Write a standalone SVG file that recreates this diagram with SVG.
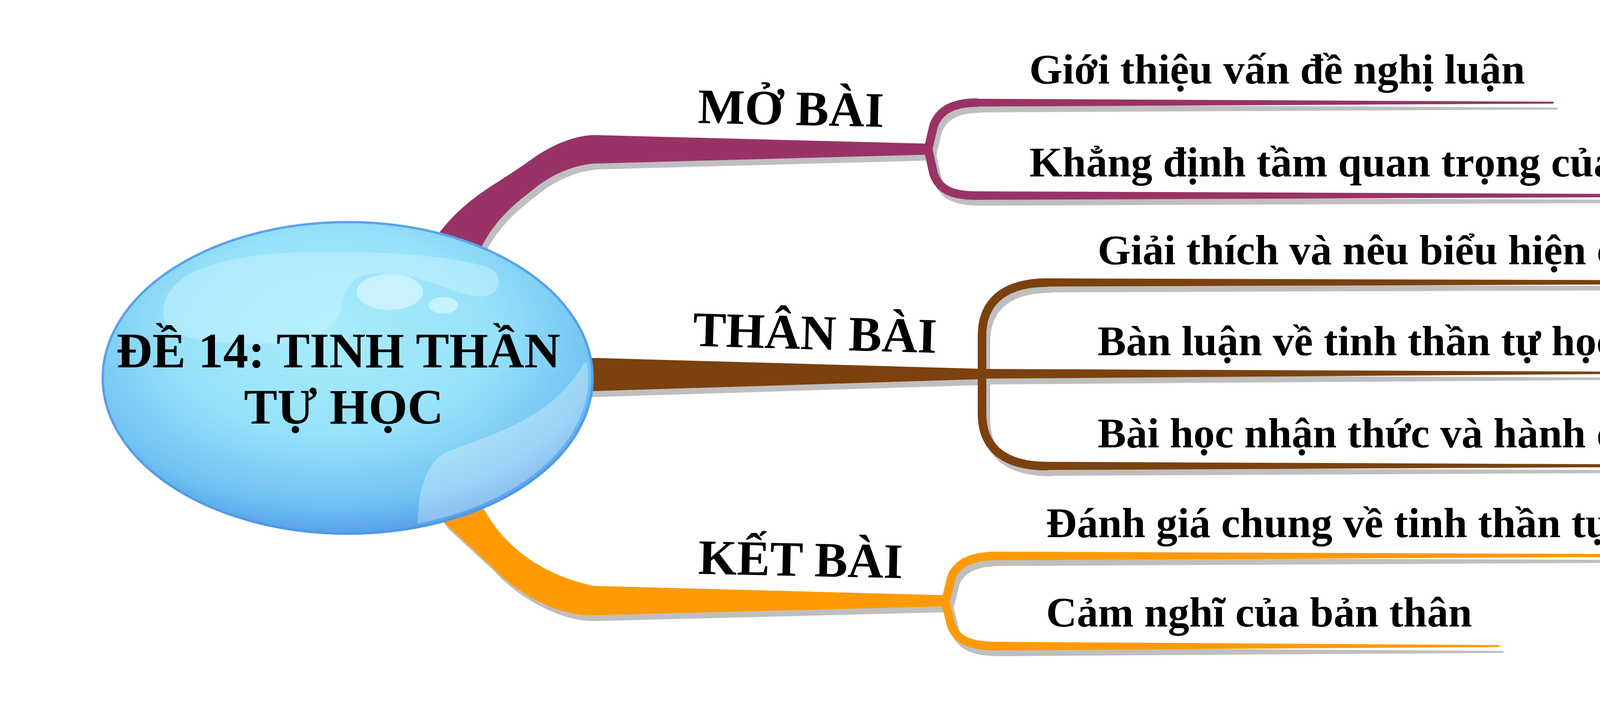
<svg xmlns="http://www.w3.org/2000/svg" xmlns:xlink="http://www.w3.org/1999/xlink" width="5334" height="1806" viewBox="0 0 5334 1806">
<style>
.f{stroke:none}
.k{fill:none;stroke-width:22;stroke-linecap:round;stroke-linejoin:round}
.t{font-family:"Liberation Serif","Times New Roman",serif;font-weight:bold;font-size:109px;fill:#000}
.lab{font-family:"Liberation Serif","Times New Roman",serif;font-weight:bold;font-size:127px;fill:#000}
.ct{font-family:"Liberation Serif","Times New Roman",serif;font-weight:bold;font-size:128px;fill:#000;text-anchor:middle}
</style>
<defs>
<radialGradient id="bub" cx="0.47" cy="0.36" r="0.72">
<stop offset="0" stop-color="#a8ecfc"/>
<stop offset="0.45" stop-color="#96e2fa"/>
<stop offset="0.75" stop-color="#72c2f3"/>
<stop offset="1" stop-color="#3f86e0"/>
</radialGradient>
<clipPath id="clipE"><ellipse cx="890" cy="968" rx="616" ry="390"/></clipPath>
<g id="br1">
<path class="f" d="M1060,690 L1127,593 C1200,500 1270,475 1368,403 C1420,368 1470,348 1520,346 L2378,368 L2378,396 L1520,419 C1480,422 1420,440 1368,483 C1320,520 1270,560 1234,630 L1180,720 Z"/>
<path class="k" d="M2376,382 L2390,322 C2405,282 2440,263 2500,263"/>
<path class="k" d="M2376,382 L2390,445 C2405,488 2440,501 2500,501"/>
<path class="f" d="M2490,253 L3975,260.5 A2.5,2.5 0 0 1 3975,265.5 L2490,273 Z"/>
<path class="f" d="M2490,490 L4550,498.5 A2.5,2.5 0 0 1 4550,503.5 L2490,512 Z"/>
</g>
<g id="br2">
<path class="f" d="M1450,915 L2520,945 L2520,971 L1450,1004 Z"/>
<path class="f" d="M2510,945 L4213,952.5 A2.5,2.5 0 0 1 4213,957.5 L2510,970 Z"/>
<path class="k" d="M2514,958 L2514,860 C2514,770 2575,724 2680,724"/>
<path class="k" d="M2514,958 L2514,1060 C2514,1150 2575,1194 2680,1194"/>
<path class="f" d="M2670,713 L5100,720.5 A2.5,2.5 0 0 1 5100,725.5 L2670,734 Z"/>
<path class="f" d="M2670,1183 L4395,1190.5 A2.5,2.5 0 0 1 4395,1195.5 L2670,1204 Z"/>
</g>
<g id="br3">
<path class="f" d="M1190,1240 L1239,1305 C1280,1380 1365,1468 1521,1501 L2428,1525 L2428,1553 L1512,1576 C1440,1578 1330,1530 1253,1446 L1138,1340 L1090,1270 Z"/>
<path class="k" d="M2420,1542 L2436,1478 C2452,1440 2490,1425 2550,1424"/>
<path class="k" d="M2420,1542 L2436,1605 C2452,1643 2490,1655 2550,1655"/>
<path class="f" d="M2540,1413 L4420,1420.5 A2.5,2.5 0 0 1 4420,1425.5 L2540,1435 Z"/>
<path class="f" d="M2540,1644 L3837,1652.5 A2.5,2.5 0 0 1 3837,1657.5 L2540,1666 Z"/>
</g>
</defs>
<rect width="5334" height="1806" fill="#ffffff"/>
<g id="connectors">
<use xlink:href="#br1" transform="translate(10,15)" fill="#bfbfbf" stroke="#bfbfbf"/>
<use xlink:href="#br1" fill="#993366" stroke="#993366"/>
<use xlink:href="#br2" transform="translate(10,15)" fill="#bfbfbf" stroke="#bfbfbf"/>
<use xlink:href="#br2" fill="#7b410e" stroke="#7b410e"/>
<use xlink:href="#br3" transform="translate(10,15)" fill="#bfbfbf" stroke="#bfbfbf"/>
<use xlink:href="#br3" fill="#ff9a03" stroke="#ff9a03"/>
</g>
<g id="node-center">
<ellipse cx="890" cy="968" rx="630" ry="402" fill="url(#bub)"/>
<path d="M418,800 C418,700 560,650 800,645 C1000,642 1200,660 1260,690 C1290,710 1280,760 1230,760 C1170,760 1090,700 960,700 C890,700 880,760 870,800 C850,860 780,880 650,880 C500,880 418,860 418,800 Z" fill="#c4f1fd" opacity="0.55"/>
<ellipse cx="998" cy="748" rx="85" ry="46" fill="#c8f2fd"/>
<ellipse cx="1135" cy="782" rx="38" ry="21" fill="#c8f2fd"/>
<path clip-path="url(#clipE)" d="M1071,1420 C1060,1260 1090,1180 1150,1155 C1300,1100 1420,1060 1495,930 L1560,930 L1560,1420 Z" fill="#ffffff" opacity="0.3"/>
<ellipse cx="890" cy="968" rx="627" ry="399" fill="none" stroke="#4f95e6" stroke-width="6" opacity="0.8"/>
<text class="ct" x="866" y="941">ĐỀ 14: TINH THẦN</text>
<text class="ct" x="880" y="1085">TỰ HỌC</text>
</g>
<g id="node-mobai"><text class="lab" x="1786" y="315" transform="rotate(1.2 1786 315)">MỞ BÀI</text></g>
<g id="node-thanbai"><text class="lab" x="1773" y="886" transform="rotate(1.65 1773 886)">THÂN BÀI</text></g>
<g id="node-ketbai"><text class="lab" x="1787" y="1470" transform="rotate(1.2 1787 1470)">KẾT BÀI</text></g>
<g id="node-mb1"><text class="t" x="2635" y="214">Giới thiệu vấn đề nghị luận</text></g>
<g id="node-mb2"><text class="t" x="2635" y="452">Khẳng định tầm quan trọng của tự học</text></g>
<g id="node-tb1"><text class="t" x="2810" y="677">Giải thích và nêu biểu hiện của tinh thần tự học</text></g>
<g id="node-tb2"><text class="t" x="2810" y="910">Bàn luận về tinh thần tự học</text></g>
<g id="node-tb3"><text class="t" x="2810" y="1146">Bài học nhận thức và hành động</text></g>
<g id="node-kb1"><text class="t" x="2678" y="1376">Đánh giá chung về tinh thần tự học</text></g>
<g id="node-kb2"><text class="t" x="2678" y="1605">Cảm nghĩ của bản thân</text></g>
</svg>
